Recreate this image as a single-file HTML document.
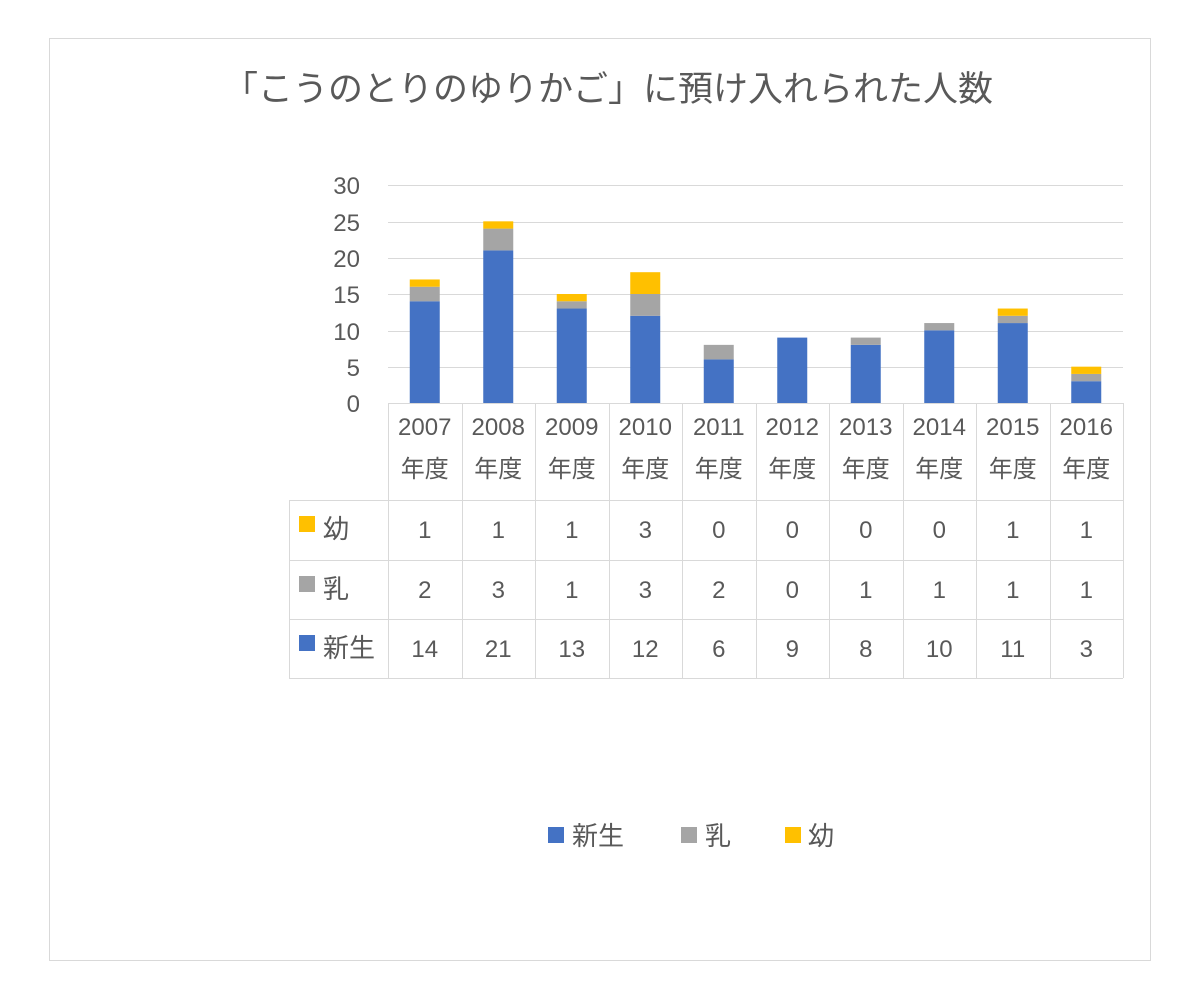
<!DOCTYPE html>
<html><head><meta charset="utf-8"><style>
body{margin:0;background:#fff}
svg text{font-family:"Liberation Sans","Noto Sans CJK JP",sans-serif;fill:#595959}
</style></head><body>
<svg width="1200" height="1000" xmlns="http://www.w3.org/2000/svg">
<rect x="0" y="0" width="1200" height="1000" fill="#fff"/>
<rect x="49.5" y="38.5" width="1101" height="922" fill="#fff" stroke="#d9d9d9"/>
<text x="608" y="101" font-size="35" text-anchor="middle">「こうのとりのゆりかご」に預け入れられた人数</text>
<g stroke="#d9d9d9" stroke-width="1">
<line x1="388" y1="185.5" x2="1123" y2="185.5"/>
<line x1="388" y1="222.5" x2="1123" y2="222.5"/>
<line x1="388" y1="258.5" x2="1123" y2="258.5"/>
<line x1="388" y1="294.5" x2="1123" y2="294.5"/>
<line x1="388" y1="331.5" x2="1123" y2="331.5"/>
<line x1="388" y1="367.5" x2="1123" y2="367.5"/>
</g>
<g font-size="24" text-anchor="end">
<text x="360" y="194">30</text><text x="360" y="231">25</text><text x="360" y="267">20</text>
<text x="360" y="303">15</text><text x="360" y="340">10</text><text x="360" y="376">5</text><text x="360" y="412">0</text>
</g>
<g id="bars"></g>
<g stroke="#d9d9d9" stroke-width="1" fill="none" id="grid"></g>
<g font-size="24" text-anchor="middle" id="txt"></g>
<rect x="548" y="827" width="16" height="16" fill="#4472C4"/><text x="572" y="845" font-size="26">新生</text>
<rect x="681" y="827" width="16" height="16" fill="#A5A5A5"/><text x="705" y="845" font-size="26">乳</text>
<rect x="785" y="827" width="16" height="16" fill="#FFC000"/><text x="808" y="845" font-size="26">幼</text>
<script>
var a=[14,21,13,12,6,9,8,10,11,3],b=[2,3,1,3,2,0,1,1,1,1],c=[1,1,1,3,0,0,0,0,1,1];
var yrs=[2007,2008,2009,2010,2011,2012,2013,2014,2015,2016];
var u=218/30,base=403,w=73.5,ns="http://www.w3.org/2000/svg";
function el(p,t,at,tx){var e=document.createElementNS(ns,t);for(var k in at)e.setAttribute(k,at[k]);if(tx!==undefined)e.textContent=tx;p.appendChild(e);return e;}
var B=document.getElementById("bars"),G=document.getElementById("grid"),T=document.getElementById("txt");
for(var i=0;i<10;i++){var cx=388+w*(i+0.5),y=base;
[[a[i],"#4472C4"],[b[i],"#A5A5A5"],[c[i],"#FFC000"]].forEach(function(s){if(s[0]>0){var h=s[0]*u;y-=h;el(B,"rect",{x:cx-15,y:y,width:30,height:h,fill:s[1]});}});
el(T,"text",{x:cx,y:435},yrs[i]);el(T,"text",{x:cx,y:477},"年度");
el(T,"text",{x:cx,y:538},c[i]);el(T,"text",{x:cx,y:598},b[i]);el(T,"text",{x:cx,y:657},a[i]);}
for(var i=0;i<=10;i++){var x=Math.round(388+w*i)+0.5;el(G,"line",{x1:x,y1:403,x2:x,y2:678});}
el(G,"line",{x1:289.5,y1:500,x2:289.5,y2:678});
el(G,"line",{x1:388,y1:403.5,x2:1123,y2:403.5});
[500.5,560.5,619.5,678.5].forEach(function(y){el(G,"line",{x1:289,y1:y,x2:1123,y2:y});});
var L=[["幼","#FFC000",538],["乳","#A5A5A5",598],["新生","#4472C4",657]];
L.forEach(function(l){el(T,"rect",{x:299,y:l[2]-22,width:16,height:16,fill:l[1]});el(T,"text",{x:323,y:l[2],"text-anchor":"start","font-size":26},l[0]);});
</script>
</svg>
</body></html>
